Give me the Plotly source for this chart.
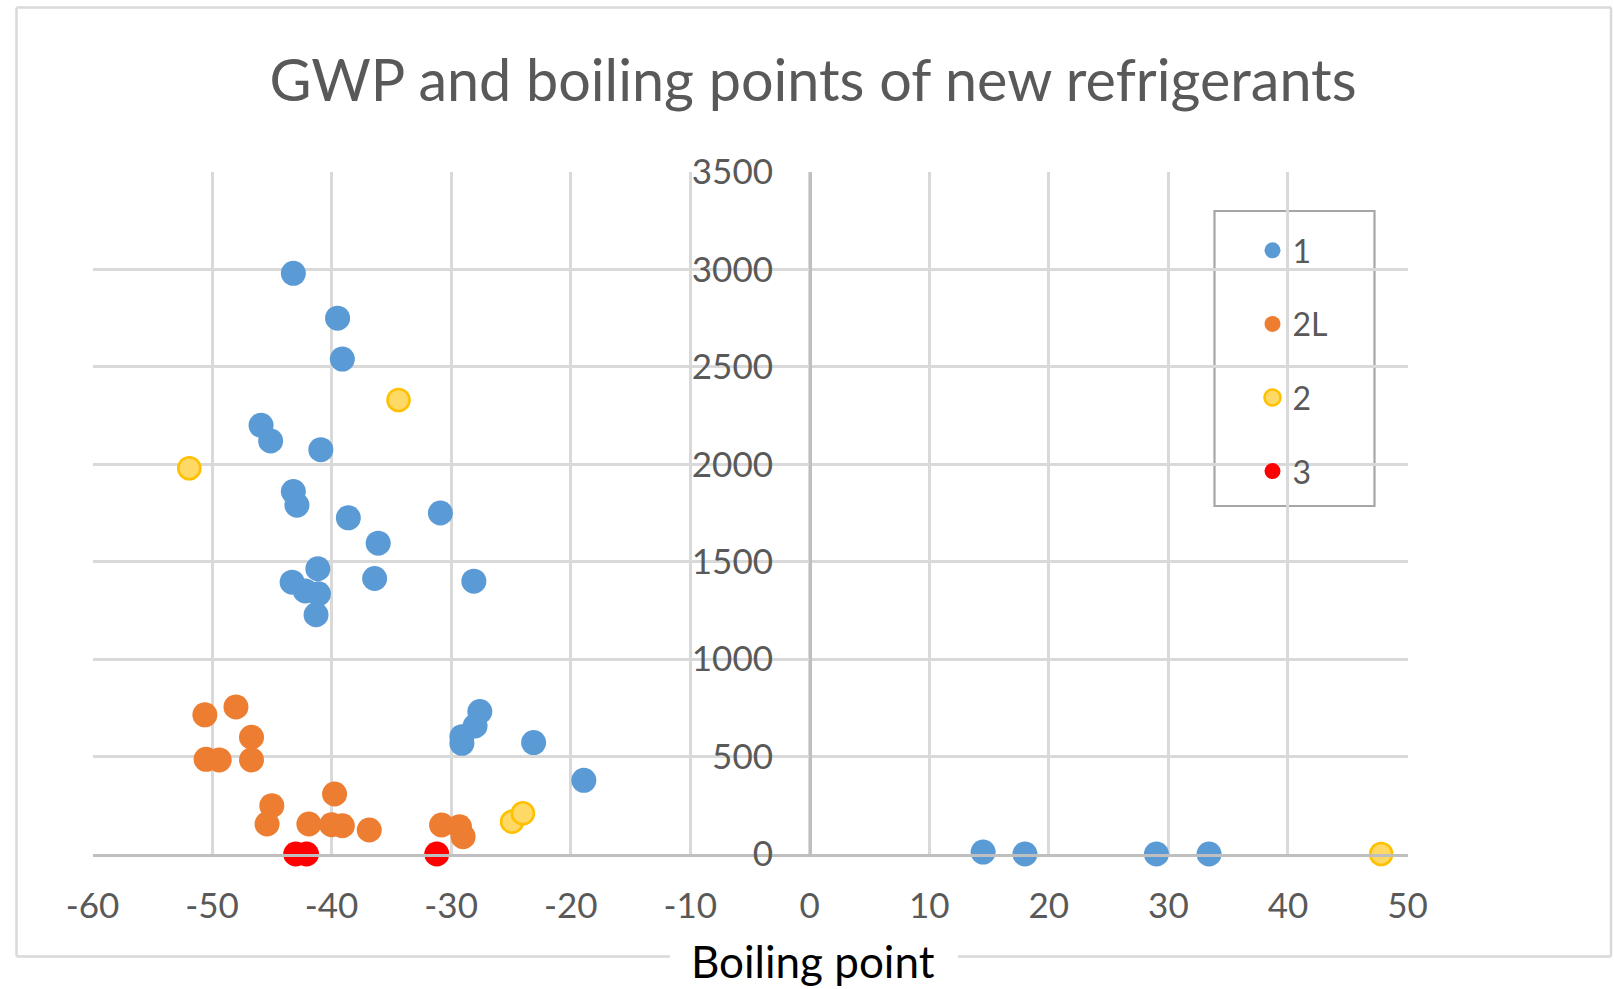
import plotly.graph_objects as go

W, H = 1614, 989
FONT = "Lato"

# ---------------- data ----------------
categories = ["1", "2L", "2", "3"]

bp_1 = [-43.2, -39.5, -39.1, -45.9, -45.1, -40.9, -43.2, -42.9, -38.6, -30.9,
        -36.1, -41.15, -36.4, -28.1, -43.3, -42.2, -41.1, -41.3,
        -27.6, -28.0, -29.1, -29.1, -23.1, -18.9, 14.5, 18.0, 29.0, 33.4]
gwp_1 = [2980, 2750, 2540, 2200, 2120, 2075, 1860, 1790, 1725, 1750,
         1595, 1464, 1414, 1400, 1395, 1350, 1335, 1228,
         731, 657, 602, 568, 572, 378, 10, 0, 0, 0]

bp_2L = [-50.6, -48.0, -46.7, -50.5, -49.4, -46.7, -45.0, -45.4, -39.75, -41.9,
         -40.0, -39.1, -36.85, -30.8, -29.3, -29.0]
gwp_2L = [714, 755, 599, 486, 483, 483, 248, 154, 308, 154,
          150, 145, 123, 149, 140, 89]

bp_2 = [-34.4, -51.9, -24.9, -24.0, 47.8]
gwp_2 = [2330, 1980, 166, 209, 0]

bp_3 = [-43.0, -42.1, -31.2]
gwp_3 = [0, 0, 0]

x_ticks = list(range(-60, 51, 10))
y_ticks = list(range(0, 3501, 500))

# ---------------- layout geometry ----------------
px_left, px_right = 92.5, 1407.5
px_top, px_bottom = 172.0, 854.0
xdom = [px_left / W, px_right / W]
ydom = [1 - px_bottom / H, 1 - px_top / H]
xr = [-60, 50]
yr = [0, 3500]
yaxis_pos = xdom[0] + (0 - xr[0]) / (xr[1] - xr[0]) * (xdom[1] - xdom[0])

series = [
    (categories[0], bp_1, gwp_1, dict(color="#5B9BD5", size=25, line=dict(width=0))),
    (categories[1], bp_2L, gwp_2L, dict(color="#ED7D31", size=25, line=dict(width=0))),
    (categories[2], bp_2, gwp_2, dict(color="#FFD966", size=22, line=dict(color="#FFC000", width=2.6))),
    (categories[3], bp_3, gwp_3, dict(color="#FF0000", size=25, line=dict(width=0))),
]

fig = go.Figure()
for i, (name, xs, ys, mk) in enumerate(series):
    fig.add_trace(go.Scatter(
        x=xs, y=ys, mode="markers", name=name, marker=mk,
        cliponaxis=False, legendgroup="g%d" % i,
    ))

grid = "#d9d9d9"
shapes = []
# outer chart border (bottom broken by the axis title)
bc = dict(color="#d9d9d9", width=2.5)
def seg(x0, y0, x1, y1, line):
    return dict(type="line", xref="paper", yref="paper",
                x0=x0 / W, y0=1 - y0 / H, x1=x1 / W, y1=1 - y1 / H, line=line, layer="below")
shapes += [
    seg(16.5, 7.5, 1611, 7.5, bc),
    seg(16.5, 7.5, 16.5, 956.5, bc),
    seg(1611, 7.5, 1611, 956.5, bc),
    seg(16.5, 956.5, 670, 956.5, bc),
    seg(958, 956.5, 1611, 956.5, bc),
]
# legend frame
shapes.append(dict(type="rect", xref="paper", yref="paper",
                   x0=1214.5 / W, x1=1374.5 / W, y0=1 - 506 / H, y1=1 - 211 / H,
                   line=dict(color="#a6a6a6", width=2.2), fillcolor="white", layer="below"))

fig.update_layout(
    width=W, height=H,
    margin=dict(l=0, r=0, t=0, b=0, pad=0, autoexpand=False),
    paper_bgcolor="white", plot_bgcolor="white",
    font=dict(family=FONT, color="#595959"),
    title=dict(text="GWP and boiling points of new refrigerants",
               x=813 / W, xanchor="center", xref="paper",
               y=1 - 81 / H, yanchor="middle", yref="paper",
               font=dict(size=57.5, color="#595959", family=FONT)),
    xaxis=dict(domain=xdom, range=xr, tickvals=x_ticks, ticktext=[str(v) for v in x_ticks],
               showgrid=True, gridcolor=grid, gridwidth=2.5,
               zeroline=False, showline=True, linecolor="#bfbfbf", linewidth=3,
               ticks="", ticklabelstandoff=19,
               tickfont=dict(size=35, color="#595959", family=FONT),
               anchor="y", fixedrange=True, automargin=False),
    yaxis=dict(domain=ydom, range=yr, tickvals=y_ticks, ticktext=[str(v) for v in y_ticks],
               showgrid=True, gridcolor=grid, gridwidth=2.5,
               zeroline=False, showline=True, linecolor="#bfbfbf", linewidth=2.5,
               ticks="", ticklabelstandoff=29,
               tickfont=dict(size=35, color="#595959", family=FONT),
               anchor="free", position=yaxis_pos, fixedrange=True, automargin=False),
    showlegend=True,
    legend=dict(x=1252.5 / W, xanchor="left", y=1 - 223 / H, yanchor="top",
                bgcolor="rgba(0,0,0,0)", borderwidth=0,
                font=dict(size=32, color="#595959", family=FONT),
                traceorder="grouped", tracegroupgap=29, itemsizing="trace"),
    shapes=shapes,
    annotations=[dict(text="Boiling point", xref="paper", yref="paper",
                      x=813 / W, y=0, xanchor="center", yanchor="bottom",
                      showarrow=False, font=dict(size=44, color="#000000", family=FONT))],
)

fig.write_html("out.html",
               config={"displayModeBar": False},
               post_script="document.body.style.margin='0';document.body.style.overflow='hidden';")
